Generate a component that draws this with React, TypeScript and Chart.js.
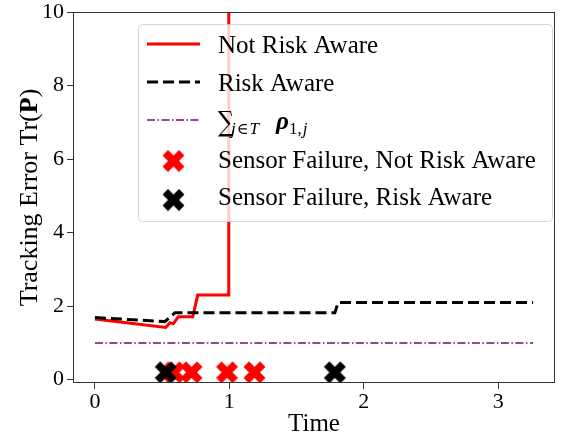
import React, { useEffect, useRef } from 'react';
import { Chart, registerables } from 'chart.js';

Chart.register(...registerables);

// ---- data ----
const notRiskTime = [0, 0.527, 0.558, 0.583, 0.62, 0.728, 0.765, 0.995, 0.996];
const notRiskValue = [1.65, 1.42, 1.55, 1.52, 1.71, 1.71, 2.3, 2.3, 80];
const riskTime = [0, 0.52, 0.595, 1.785, 1.81, 3.26];
const riskValue = [1.69, 1.58, 1.82, 1.82, 2.1, 2.1];
const rhoTime = [0, 3.26];
const rhoValue = [1.0, 1.0];
const failNotRiskTime = [0.588, 0.719, 0.983, 1.187];
const failRiskTime = [0.527, 1.785];
const failLevel = 0.2;
const xTicks = [0, 1, 2, 3];
const yTicks = [0, 2, 4, 6, 8, 10];
const legendLabels = [
  'Not Risk Aware',
  'Risk Aware',
  'SUM',
  'Sensor Failure, Not Risk Aware',
  'Sensor Failure, Risk Aware',
];

const FONT = "'Liberation Serif', 'DejaVu Serif', serif";

function makeX(color: string, size: number): HTMLCanvasElement {
  const c = document.createElement('canvas');
  c.width = size;
  c.height = size;
  const ctx = c.getContext('2d')!;
  const u = size / 4.2;
  const m = size / 2;
  const pts = [[-1, -2], [0, -1], [1, -2], [2, -1], [1, 0], [2, 1], [1, 2], [0, 1], [-1, 2], [-2, 1], [-1, 0], [-2, -1]];
  ctx.beginPath();
  pts.forEach(([x, y], i) => {
    if (i === 0) ctx.moveTo(m + x * u, m + y * u);
    else ctx.lineTo(m + x * u, m + y * u);
  });
  ctx.closePath();
  ctx.fillStyle = color;
  ctx.fill();
  return c;
}

function zip(xs: number[], ys: number[]) {
  return xs.map((x, i) => ({ x, y: ys[i] }));
}

export default function App() {
  const ref = useRef<HTMLCanvasElement>(null);

  useEffect(() => {
    document.body.style.margin = '0';
    let chart: any = null;
    let cancelled = false;
    const MS = 23;
    const redX = makeX('#ff0000', MS);
    const blackX = makeX('#000000', MS);

    const framePlugin = {
      id: 'frameLegend',
      afterDatasetsDraw(ch: any) {
        const { ctx, chartArea: a } = ch;
        ctx.save();
        // spines
        ctx.strokeStyle = '#333';
        ctx.lineWidth = 1;
        ctx.strokeRect(Math.round(a.left) + 0.5, Math.round(a.top) + 0.5, Math.round(a.right - a.left) - 1, Math.round(a.bottom - a.top) - 1);

        // legend box
        const lx = 138.5, ly = 24.5, lw = 414, lh = 197, r = 4;
        ctx.beginPath();
        ctx.moveTo(lx + r, ly);
        ctx.lineTo(lx + lw - r, ly);
        ctx.quadraticCurveTo(lx + lw, ly, lx + lw, ly + r);
        ctx.lineTo(lx + lw, ly + lh - r);
        ctx.quadraticCurveTo(lx + lw, ly + lh, lx + lw - r, ly + lh);
        ctx.lineTo(lx + r, ly + lh);
        ctx.quadraticCurveTo(lx, ly + lh, lx, ly + lh - r);
        ctx.lineTo(lx, ly + r);
        ctx.quadraticCurveTo(lx, ly, lx + r, ly);
        ctx.closePath();
        ctx.fillStyle = 'rgba(255,255,255,0.8)';
        ctx.fill();
        ctx.strokeStyle = 'rgba(204,204,204,0.8)';
        ctx.stroke();

        const hx0 = 147, hx1 = 200, tx = 218;
        const handleY = [44, 82, 120, 161, 200];
        const baseY = [53, 91, 129, 168, 205];

        // handles
        ctx.lineCap = 'butt';
        ctx.lineWidth = 3;
        ctx.strokeStyle = '#ff0000';
        ctx.setLineDash([]);
        ctx.beginPath(); ctx.moveTo(hx0, handleY[0]); ctx.lineTo(hx1, handleY[0]); ctx.stroke();
        ctx.strokeStyle = '#000';
        ctx.setLineDash([11, 5]);
        ctx.beginPath(); ctx.moveTo(hx0, handleY[1]); ctx.lineTo(hx1, handleY[1]); ctx.stroke();
        ctx.strokeStyle = '#800080';
        ctx.lineWidth = 1.5;
        ctx.setLineDash([8, 2.5, 1.5, 2.5]);
        ctx.beginPath(); ctx.moveTo(hx0, handleY[2]); ctx.lineTo(hx1, handleY[2]); ctx.stroke();
        ctx.setLineDash([]);
        ctx.drawImage(redX, 173.5 - MS / 2, handleY[3] - MS / 2);
        ctx.drawImage(blackX, 173.5 - MS / 2, handleY[4] - MS / 2);

        // texts
        ctx.fillStyle = '#000';
        ctx.textAlign = 'left';
        ctx.textBaseline = 'alphabetic';
        ctx.font = `25px ${FONT}`;
        ctx.fillText(legendLabels[0], tx, baseY[0]);
        ctx.fillText(legendLabels[1], tx, baseY[1]);
        ctx.fillText(legendLabels[3], tx, baseY[3]);
        ctx.fillText(legendLabels[4], tx, baseY[4]);
        // sum label: sum_{j in T} rho_{1,j}
        const b = baseY[2];
        ctx.font = `28px 'DejaVu Serif', serif`;
        ctx.save();
        ctx.translate(tx, b + 2);
        ctx.scale(0.8, 1);
        ctx.fillText('\u2211', 0, 0);
        ctx.restore();
        let x = tx + 13;
        ctx.font = `italic 17px ${FONT}`;
        ctx.fillText('j', x, b + 5);
        x += ctx.measureText('j').width + 1;
        ctx.font = `16px 'DejaVu Serif', serif`;
        ctx.fillText('\u2208', x, b + 5);
        x += ctx.measureText('\u2208').width + 1;
        ctx.font = `italic 17px ${FONT}`;
        ctx.fillText('T', x, b + 5);
        ctx.font = `bold italic 25px ${FONT}`;
        ctx.fillText('\u03C1', tx + 58, b);
        x = tx + 58 + ctx.measureText('\u03C1').width;
        ctx.font = `17px ${FONT}`;
        ctx.fillText('1,', x, b + 5);
        x += ctx.measureText('1,').width + 1;
        ctx.font = `italic 17px ${FONT}`;
        ctx.fillText('j', x, b + 5);
        ctx.restore();
      },
      afterDraw(ch: any) {
        const { ctx, chartArea: a } = ch;
        ctx.save();
        const parts = [
          { t: 'Tracking Error Tr(', b: false },
          { t: 'P', b: true },
          { t: ')', b: false },
        ];
        let total = 0;
        const widths = parts.map((p) => {
          ctx.font = `${p.b ? 'bold ' : ''}26px ${FONT}`;
          const w = ctx.measureText(p.t).width;
          total += w;
          return w;
        });
        ctx.translate(30, (a.top + a.bottom) / 2);
        ctx.rotate(-Math.PI / 2);
        ctx.fillStyle = '#000';
        ctx.textBaseline = 'middle';
        ctx.textAlign = 'left';
        let x = -total / 2;
        parts.forEach((p, i) => {
          ctx.font = `${p.b ? 'bold ' : ''}26px ${FONT}`;
          ctx.fillText(p.t, x, 0);
          x += widths[i];
        });
        ctx.restore();
      },
    };

    const tickFont = { family: FONT, size: 22 };

    const build = () => {
      if (cancelled || !ref.current) return;
      chart = new Chart(ref.current, {
        type: 'line',
        data: {
          datasets: [
            {
              label: legendLabels[4],
              data: failRiskTime.map((t) => ({ x: t, y: failLevel })),
              showLine: false,
              pointStyle: blackX as any,
              pointRadius: 11,
              order: 0,
            },
            {
              label: legendLabels[3],
              data: failNotRiskTime.map((t) => ({ x: t, y: failLevel })),
              showLine: false,
              pointStyle: redX as any,
              pointRadius: 11,
              order: 1,
            },
            {
              label: legendLabels[1],
              data: zip(riskTime, riskValue),
              borderColor: '#000',
              borderWidth: 3,
              borderDash: [11, 5],
              pointRadius: 0,
              fill: false,
              tension: 0,
              order: 2,
            },
            {
              label: legendLabels[0],
              data: zip(notRiskTime, notRiskValue),
              borderColor: '#ff0000',
              borderWidth: 3,
              pointRadius: 0,
              fill: false,
              tension: 0,
              order: 3,
            },
            {
              label: legendLabels[2],
              data: zip(rhoTime, rhoValue),
              borderColor: '#800080',
              borderWidth: 1.5,
              borderDash: [8, 2.5, 1.5, 2.5],
              pointRadius: 0,
              fill: false,
              order: 4,
            },
          ],
        },
        options: {
          responsive: false,
          animation: false,
          devicePixelRatio: 1,
          layout: { padding: { top: 10, right: 2, left: 0, bottom: 0 } },
          plugins: { legend: { display: false }, tooltip: { enabled: false } },
          scales: {
            x: {
              type: 'linear',
              min: -0.163,
              max: 3.423,
              afterBuildTicks: (s: any) => {
                s.ticks = xTicks.map((v) => ({ value: v }));
              },
              ticks: { font: tickFont, color: '#000', padding: 0, maxRotation: 0, callback: (v: any) => String(v) },
              grid: { display: true, drawOnChartArea: false, drawTicks: true, tickLength: 6, color: '#333', lineWidth: 1 },
              border: { display: false },
              title: { display: true, text: 'Time', font: { family: FONT, size: 25 }, color: '#000', padding: { top: 0, bottom: 0 } },
              afterFit: (s: any) => {
                s.height = 56;
                s.paddingLeft = 0;
                s.paddingRight = 0;
              },
            },
            y: {
              type: 'linear',
              min: -0.09,
              max: 10,
              afterBuildTicks: (s: any) => {
                s.ticks = yTicks.map((v) => ({ value: v }));
              },
              ticks: { font: tickFont, color: '#000', padding: 3, callback: (v: any) => String(v) },
              grid: { display: true, drawOnChartArea: false, drawTicks: true, tickLength: 6, color: '#333', lineWidth: 1 },
              border: { display: false },
              afterFit: (s: any) => {
                s.width = 73;
                s.paddingTop = 0;
                s.paddingBottom = 0;
              },
            },
          },
        },
        plugins: [framePlugin],
      } as any);
    };

    const fonts: any = (document as any).fonts;
    if (fonts && fonts.load) {
      Promise.all([
        fonts.load("24px 'Liberation Serif'"),
        fonts.load("bold 24px 'Liberation Serif'"),
        fonts.load("italic 24px 'Liberation Serif'"),
        fonts.load("bold italic 24px 'Liberation Serif'"),
        fonts.load("24px 'DejaVu Serif'"),
      ])
        .catch(() => null)
        .then(build);
    } else {
      build();
    }

    return () => {
      cancelled = true;
      if (chart) chart.destroy();
    };
  }, []);

  return (
    <div style={{ position: 'fixed', left: 0, top: 0, width: 567, height: 439 }}>
      <canvas ref={ref} width={567} height={439} style={{ display: 'block' }} />
    </div>
  );
}
